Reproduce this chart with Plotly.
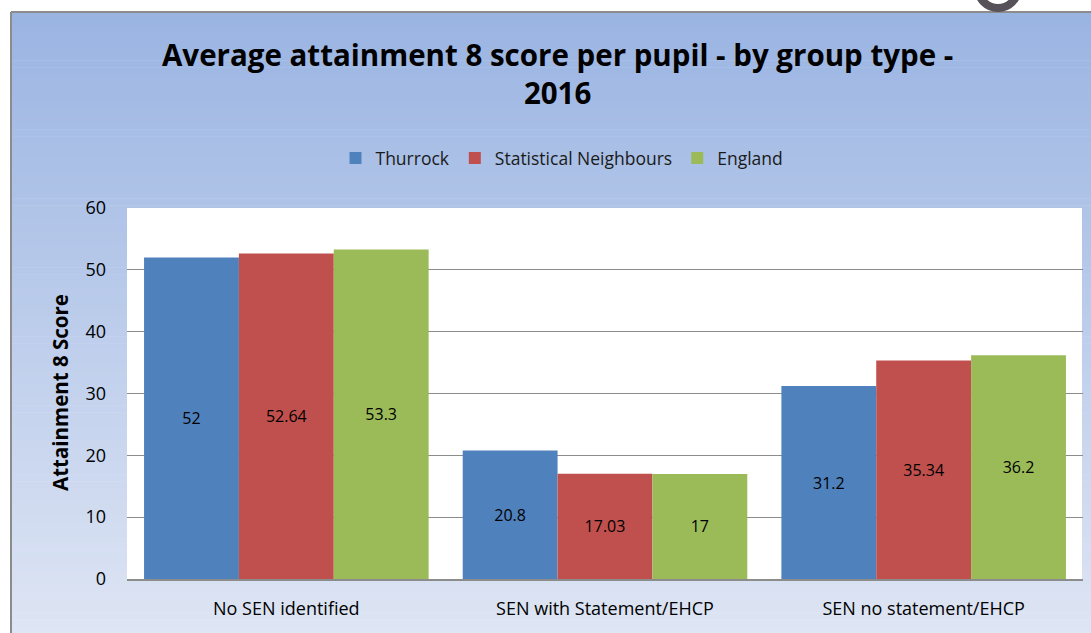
import plotly.graph_objects as go

categories = ["No SEN identified", "SEN with Statement/EHCP", "SEN no statement/EHCP"]
thurrock = [52, 20.8, 31.2]
stat_neighbours = [52.64, 17.03, 35.34]
england = [53.3, 17, 36.2]
series_names = ["Thurrock", "Statistical Neighbours", "England"]
series_colors = ["#4f81bd", "#c0504d", "#9bbb59"]
y_ticks = [0, 10, 20, 30, 40, 50, 60]

W, H = 1091, 633
L, R, T, B = 127, 8, 208, 54
PW, PH = W - L - R, H - T - B


def px(xp):
    return (xp - L) / PW


def py(yp):
    return (H - B - yp) / PH


FONT = "'Open Sans', Lato, sans-serif"

fig = go.Figure()
for name, vals, col in zip(series_names, [thurrock, stat_neighbours, england], series_colors):
    fig.add_trace(go.Bar(
        name=name, x=categories, y=vals, marker=dict(color=col, line=dict(width=0)),
        text=[f"{v:g}" for v in vals], textposition="inside", insidetextanchor="middle",
        textangle=0, constraintext="none",
        insidetextfont=dict(color="black", size=16, family=FONT),
    ))

shapes = []
# gradient background
top_c = (154, 180, 226)
bot_c = (222, 229, 244)
y0, y1 = 12, H
n = 90
for i in range(n):
    a = y0 + (y1 - y0) * i / n
    b = y0 + (y1 - y0) * (i + 1) / n
    t = (i + 0.5) / n
    c = tuple(round(top_c[k] + (bot_c[k] - top_c[k]) * t) for k in range(3))
    shapes.append(dict(type="rect", xref="paper", yref="paper", layer="below",
                       x0=px(11), x1=px(W + 2), y0=py(b + 0.5), y1=py(a),
                       line=dict(width=0), fillcolor=f"rgb{c}"))
# white plot area
shapes.append(dict(type="rect", xref="paper", yref="paper", layer="below",
                   x0=0, x1=px(1082), y0=0, y1=1, line=dict(width=0), fillcolor="white"))
# frame lines
shapes.append(dict(type="line", xref="paper", yref="paper", layer="above",
                   x0=px(11), x1=px(W + 2), y0=py(12), y1=py(12),
                   line=dict(color="#8c8c8c", width=2)))
shapes.append(dict(type="line", xref="paper", yref="paper", layer="above",
                   x0=px(11), x1=px(11), y0=py(12), y1=py(H + 2),
                   line=dict(color="#8c8c8c", width=2)))
# partial glyph at top right
shapes.append(dict(type="circle", xref="paper", yref="paper", layer="above",
                   x0=px(998 - 20), x1=px(998 + 20), y0=py(-12 + 20), y1=py(-12 - 20),
                   line=dict(color="#57525a", width=8), fillcolor="rgba(0,0,0,0)"))

fig.update_layout(
    width=W, height=H,
    margin=dict(l=L, r=R, t=T, b=B),
    paper_bgcolor="white", plot_bgcolor="white",
    barmode="group", bargap=0.107, bargroupgap=0,
    shapes=shapes,
    showlegend=True,
    legend=dict(orientation="h", x=px(562), xanchor="center", y=py(158), yanchor="middle",
                font=dict(family=FONT, size=17.5, color="#1a1a1a"), bgcolor="rgba(0,0,0,0)",
                itemwidth=30, traceorder="normal"),
    annotations=[
        dict(text="<b>Average attainment 8 score per pupil - by group type -<br>2016</b>",
             xref="paper", yref="paper", x=px(557), y=py(74), xanchor="center", yanchor="middle",
             showarrow=False, font=dict(family=FONT, size=29.5, color="black"), align="center"),
        dict(text="<b>Attainment 8 Score</b>", xref="paper", yref="paper",
             x=px(60), y=py(393), xanchor="center", yanchor="middle", textangle=-90,
             showarrow=False, font=dict(family=FONT, size=20.5, color="black")),
    ],
    xaxis=dict(showgrid=False, ticks="", tickfont=dict(family=FONT, size=18, color="black"),
               showline=True, linecolor="#8c8c8c", linewidth=1.5, ticklabelstandoff=13,
               range=[-0.5, 2.5]),
    yaxis=dict(range=[0, 60], tickvals=y_ticks, showgrid=True, gridcolor="#8c8c8c", gridwidth=1.3,
               zeroline=False, ticks="", tickfont=dict(family=FONT, size=18, color="black"),
               ticklabelstandoff=20, showline=False),
)

fig.write_html("out.html", config={"displayModeBar": False},
               post_script="document.body.style.margin='0';document.body.style.overflow='hidden';")
